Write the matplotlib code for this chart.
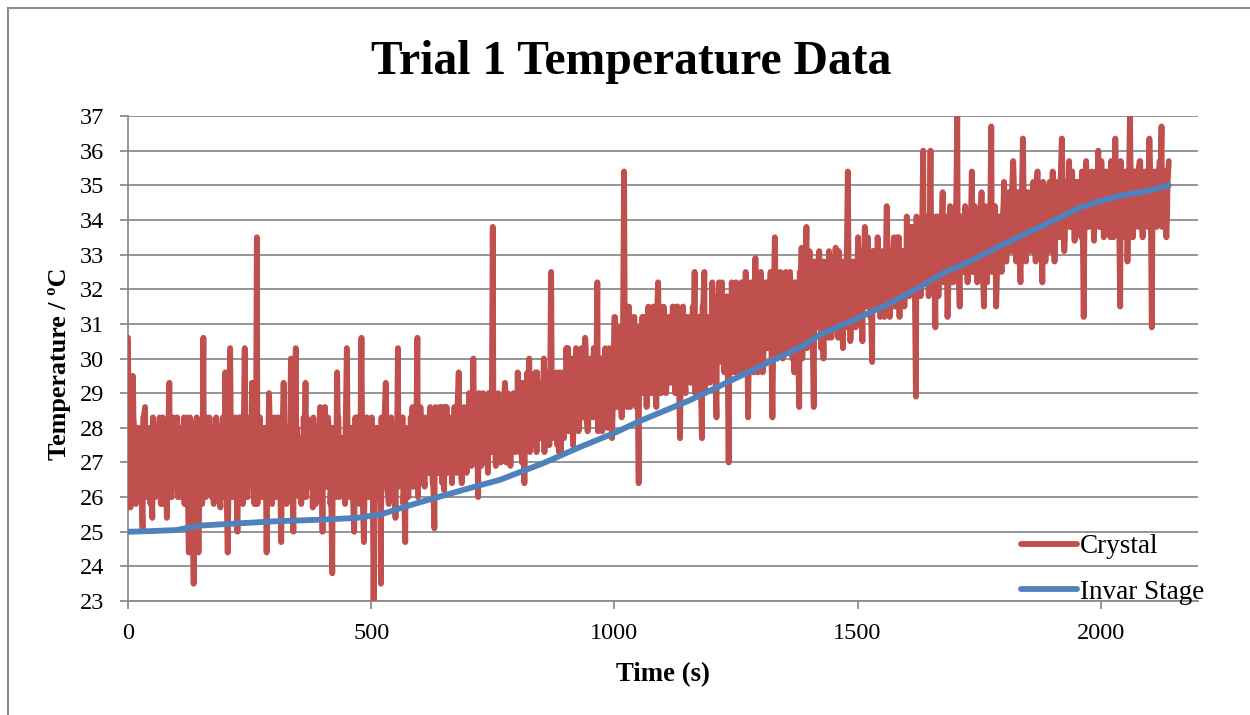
import numpy as np
import matplotlib
matplotlib.use("Agg")
import matplotlib.pyplot as plt
from matplotlib.patches import Rectangle

plt.rcParams['font.family'] = ['Liberation Serif', 'DejaVu Serif']

# crystal thermocouple, readings on the 5 s marks
crystal_step = 5
crystal_temp = [
    30.6, 25.7, 29.5, 26.3, 28.0, 26.0, 25.1, 28.6, 26.0, 28.0, 25.4, 27.7, 26.3, 28.3, 25.8, 27.3, 25.4, 29.3, 26.0, 27.7,
    28.3, 26.3, 27.3, 28.3, 25.8, 24.4, 28.0, 23.5, 27.7, 24.4, 28.0, 30.6, 26.0, 27.3, 26.3, 28.0, 26.7, 27.7, 25.7, 28.3,
    29.6, 24.4, 30.3, 26.0, 28.3, 25.0, 27.7, 26.3, 30.3, 26.0, 27.3, 29.3, 25.8, 33.5, 26.3, 28.0, 26.0, 24.4, 29.0, 26.3,
    27.7, 26.0, 28.3, 24.7, 29.3, 26.3, 28.0, 30.0, 25.0, 30.3, 26.3, 27.7, 26.0, 29.3, 26.3, 28.0, 25.7, 27.3, 26.3, 28.6,
    25.0, 28.6, 26.3, 28.0, 23.8, 27.3, 29.6, 26.0, 27.7, 26.3, 30.3, 26.0, 28.0, 25.0, 27.3, 26.7, 30.6, 24.7, 28.3, 26.0,
    26.3, 23.0, 28.0, 26.0, 23.5, 27.3, 29.3, 26.0, 28.3, 26.3, 25.4, 30.3, 26.7, 28.3, 24.7, 27.7, 26.3, 28.6, 26.7, 30.6,
    26.7, 28.3, 26.3, 28.0, 26.7, 27.7, 25.1, 28.0, 26.7, 28.6, 26.2, 28.6, 27.0, 28.0, 26.7, 28.3, 29.6, 26.7, 28.3, 27.0,
    27.3, 28.6, 30.0, 27.0, 26.0, 28.3, 29.0, 27.3, 26.7, 28.6, 33.8, 27.3, 28.6, 27.0, 28.3, 29.3, 27.3, 28.6, 27.7, 28.3,
    27.7, 29.3, 27.0, 26.4, 28.6, 30.0, 27.7, 29.0, 27.3, 28.6, 27.7, 30.0, 28.0, 29.3, 32.5, 28.0, 29.3, 27.7, 27.3, 29.6,
    28.3, 30.3, 28.6, 27.5, 29.3, 28.3, 29.6, 28.6, 30.6, 27.9, 29.6, 28.6, 30.0, 32.2, 28.6, 27.9, 30.0, 28.6, 30.3, 27.7,
    31.2, 28.6, 30.3, 28.3, 35.4, 29.0, 31.5, 29.3, 31.2, 28.6, 26.4, 30.0, 29.0, 30.6, 31.5, 29.3, 31.5, 29.6, 32.2, 29.0,
    30.0, 31.2, 29.3, 30.6, 31.5, 29.0, 31.5, 27.7, 30.3, 29.3, 31.2, 29.6, 30.6, 32.5, 29.6, 31.2, 27.7, 32.5, 29.6, 31.2,
    30.0, 31.5, 28.3, 32.2, 30.0, 31.2, 29.6, 27.0, 30.6, 31.5, 32.2, 29.6, 31.2, 30.3, 32.5, 28.3, 31.5, 30.0, 32.9, 29.6,
    31.2, 29.6, 31.5, 30.3, 31.8, 28.3, 33.5, 30.0, 31.5, 32.2, 30.3, 31.8, 30.6, 32.2, 29.6, 31.5, 28.6, 33.2, 30.6, 33.8,
    30.6, 32.5, 28.6, 32.2, 32.9, 30.3, 30.0, 32.2, 30.6, 32.5, 31.2, 33.2, 30.6, 32.2, 30.3, 32.8, 35.4, 30.5, 32.5, 31.2,
    32.8, 31.2, 30.5, 33.8, 31.8, 32.5, 29.9, 33.1, 31.5, 33.1, 31.8, 31.2, 34.4, 32.2, 33.1, 33.5, 31.5, 33.5, 32.2, 33.1,
    31.8, 33.8, 32.2, 33.8, 28.9, 33.1, 31.8, 36.0, 32.2, 34.1, 36.0, 32.5, 30.9, 34.1, 32.2, 34.8, 32.5, 31.2, 34.4, 32.5,
    33.1, 37.0, 31.5, 34.1, 32.5, 33.8, 32.8, 35.4, 32.5, 34.1, 32.8, 34.8, 31.5, 33.8, 32.8, 36.7, 33.1, 31.5, 34.1, 32.8,
    34.4, 32.8, 34.8, 33.1, 35.7, 33.5, 34.4, 32.2, 36.35, 33.5, 34.8, 33.1, 34.4, 33.5, 35.4, 33.1, 32.2, 34.8, 33.5, 35.1,
    33.8, 32.8, 35.1, 33.5, 36.35, 33.1, 34.8, 35.7, 33.8, 35.1, 34.1, 35.1, 33.5, 31.2, 35.7, 33.8, 35.1, 34.1, 35.4, 36.0,
    33.8, 35.4, 34.1, 35.1, 33.5, 35.4, 36.35, 33.8, 31.5, 35.1, 34.1, 32.8, 37.0, 33.5, 35.4, 34.4, 35.7, 33.8, 35.1, 34.1,
    36.35, 30.9, 35.1, 33.8, 35.4, 36.7, 34.1, 33.5, 35.7,
]

# crystal readings 1.25 s after each 5 s mark
crystal_temp_q1 = [
    28.0, 26.0, 28.3, 25.8, 28.0, 26.3, 28.3, 26.0, 27.7, 25.8, 28.3, 26.0, 28.0, 26.3, 28.3, 25.8, 28.0, 26.0, 27.7, 26.3,
    28.3, 26.0, 28.0, 25.8, 28.3, 26.3, 27.7, 26.0, 28.3, 25.8, 28.0, 26.0, 28.3, 26.3, 28.0, 25.8, 28.3, 26.0, 28.0, 26.3,
    28.0, 25.8, 28.3, 26.0, 28.0, 26.3, 28.3, 25.8, 27.7, 26.0, 28.3, 26.3, 28.0, 25.8, 28.3, 26.0, 28.0, 26.3, 28.3, 25.8,
    28.3, 26.0, 28.0, 26.3, 28.3, 25.8, 28.0, 26.0, 28.3, 26.3, 27.7, 25.8, 28.3, 26.0, 28.0, 26.3, 28.3, 25.8, 28.0, 26.0,
    28.0, 26.3, 28.3, 25.8, 28.0, 26.0, 28.3, 26.3, 27.7, 25.8, 28.3, 26.0, 28.0, 26.3, 28.3, 25.8, 28.0, 26.0, 28.3, 26.3,
    28.3, 25.8, 28.0, 26.0, 28.3, 26.3, 28.0, 25.8, 28.3, 26.0, 27.7, 26.3, 28.3, 25.8, 28.0, 26.0, 28.3, 26.3, 28.0, 26.0,
    28.6, 26.4, 28.3, 26.7, 28.6, 26.4, 28.3, 26.7, 28.6, 26.4, 28.6, 26.7, 28.3, 26.4, 28.6, 26.7, 28.3, 26.4, 28.6, 26.7,
    29.0, 26.9, 28.6, 27.3, 29.0, 26.9, 28.6, 27.0, 29.0, 27.3, 28.6, 26.9, 29.0, 27.0, 28.6, 27.3, 29.0, 26.9, 28.6, 27.3,
    29.6, 27.3, 29.3, 27.7, 29.6, 27.3, 29.3, 27.5, 29.6, 27.7, 29.3, 27.3, 29.6, 27.5, 29.3, 27.7, 29.6, 27.3, 29.3, 27.7,
    30.3, 27.9, 30.0, 28.3, 30.3, 27.9, 30.0, 28.3, 30.3, 28.0, 30.0, 28.3, 30.3, 27.9, 30.0, 28.3, 30.3, 28.0, 30.0, 28.3,
    31.2, 28.6, 30.9, 29.0, 31.2, 28.6, 30.9, 29.0, 31.2, 28.6, 30.9, 29.0, 31.2, 28.6, 30.9, 29.0, 31.2, 28.6, 30.9, 29.0,
    31.5, 29.0, 31.2, 29.3, 31.5, 29.0, 31.2, 29.3, 31.5, 29.0, 31.2, 29.3, 31.5, 29.0, 31.2, 29.3, 31.5, 29.0, 31.2, 29.3,
    32.2, 29.6, 31.8, 29.9, 32.2, 29.6, 31.8, 29.9, 32.2, 29.6, 31.8, 29.9, 32.2, 29.6, 31.8, 29.9, 32.2, 29.6, 31.8, 29.9,
    32.5, 30.0, 32.2, 30.3, 32.5, 30.0, 32.2, 30.3, 32.5, 30.0, 32.2, 30.3, 32.5, 30.0, 32.2, 30.3, 32.5, 30.0, 32.2, 30.3,
    33.1, 30.6, 32.8, 30.9, 33.1, 30.6, 32.8, 30.9, 33.1, 30.6, 32.8, 30.9, 33.1, 30.6, 32.8, 30.9, 33.1, 30.6, 32.8, 30.9,
    33.5, 31.2, 33.1, 31.5, 33.5, 31.2, 33.1, 31.5, 33.5, 31.2, 33.1, 31.5, 33.5, 31.2, 33.1, 31.5, 33.5, 31.2, 33.1, 31.5,
    34.1, 31.8, 33.8, 32.2, 34.1, 31.8, 33.8, 32.2, 34.1, 31.8, 33.8, 32.2, 34.1, 31.8, 33.8, 32.2, 34.1, 31.8, 33.8, 32.2,
    34.4, 32.2, 34.1, 32.5, 34.4, 32.2, 34.1, 32.5, 34.4, 32.2, 34.1, 32.5, 34.4, 32.2, 34.1, 32.5, 34.4, 32.2, 34.1, 32.5,
    35.1, 32.8, 34.8, 33.1, 35.1, 32.8, 34.8, 33.1, 35.1, 32.8, 34.8, 33.1, 35.1, 32.8, 34.8, 33.1, 35.1, 32.8, 34.8, 33.1,
    35.4, 33.4, 35.1, 33.8, 35.4, 33.4, 35.1, 33.8, 35.4, 33.4, 35.1, 33.8, 35.4, 33.4, 35.1, 33.8, 35.4, 33.4, 35.1, 33.8,
    35.7, 33.5, 35.4, 33.8, 35.7, 33.5, 35.4, 33.8, 35.7, 33.5, 35.4, 33.8, 35.7, 33.5, 35.4, 33.8, 35.7, 33.5, 35.4, 33.8,
    35.7, 33.8, 35.4, 34.1, 35.7, 33.8, 35.4, 34.1,
]

# crystal readings 2.5 s after each 5 s mark
crystal_temp_half = [
    27.3, 26.0, 28.0, 26.7, 27.7, 26.3, 28.3, 26.0, 27.3, 26.7, 28.0, 26.3, 27.0, 25.8, 28.0, 26.7, 27.7, 26.0, 28.3, 26.7,
    26.0, 28.0, 26.3, 27.7, 26.7, 28.3, 26.0, 27.3, 26.3, 28.0, 25.8, 27.7, 26.7, 28.3, 26.0, 27.0, 28.0, 26.3, 27.7, 26.0,
    26.3, 28.0, 26.0, 27.7, 26.7, 28.3, 26.0, 27.3, 26.3, 28.0, 26.7, 27.7, 26.0, 28.3, 26.3, 27.0, 28.0, 26.7, 26.3, 28.0,
    26.0, 28.3, 26.7, 27.7, 26.0, 28.0, 26.3, 27.3, 26.7, 28.0, 26.0, 27.7, 26.3, 28.3, 26.7, 27.3, 26.0, 28.0, 26.7, 27.7,
    26.7, 27.3, 28.0, 26.3, 27.7, 26.0, 28.3, 26.7, 27.3, 28.0, 26.3, 27.7, 26.0, 28.3, 26.7, 27.3, 26.0, 27.7, 26.3, 28.0,
    27.7, 26.3, 27.3, 28.0, 26.7, 28.3, 26.3, 27.7, 26.0, 28.0, 26.7, 27.3, 28.3, 26.3, 27.7, 26.7, 28.0, 26.3, 27.7, 27.0,
    27.7, 26.7, 28.3, 27.0, 28.0, 26.4, 28.6, 27.3, 26.7, 28.3, 27.0, 27.7, 26.7, 28.3, 27.3, 28.6, 26.7, 28.0, 27.0, 28.3,
    28.6, 27.3, 28.3, 27.7, 29.0, 27.0, 28.3, 27.7, 28.6, 27.3, 29.0, 27.7, 28.0, 27.3, 28.6, 27.0, 28.3, 27.7, 29.0, 27.3,
    28.6, 27.7, 29.3, 28.0, 27.7, 29.0, 28.3, 29.6, 27.7, 29.0, 28.3, 29.3, 27.7, 28.6, 29.3, 28.0, 27.5, 29.6, 28.3, 28.6,
    29.6, 28.3, 30.0, 28.6, 29.3, 28.0, 30.3, 29.0, 28.3, 29.6, 28.6, 30.3, 29.0, 28.3, 30.0, 28.6, 29.3, 28.0, 29.6, 29.0,
    29.3, 30.6, 29.0, 30.3, 29.6, 31.2, 28.6, 30.6, 29.3, 30.0, 29.6, 31.2, 29.0, 30.3, 29.6, 30.6, 29.0, 31.2, 29.6, 30.3,
    30.6, 29.3, 31.2, 29.6, 30.3, 31.5, 29.6, 30.6, 29.3, 31.2, 30.0, 30.6, 29.3, 31.2, 30.3, 29.6, 31.5, 29.6, 30.6, 29.6,
    31.2, 29.6, 30.6, 31.8, 30.3, 31.5, 30.6, 29.6, 31.8, 30.0, 31.2, 30.6, 32.2, 30.3, 31.5, 29.9, 31.8, 30.6, 31.2, 30.6,
    31.8, 30.6, 30.3, 32.2, 30.6, 31.5, 32.2, 30.3, 31.8, 30.6, 32.5, 30.6, 31.5, 30.3, 32.2, 30.6, 31.5, 30.3, 32.2, 31.2,
    31.5, 30.6, 32.5, 31.2, 31.8, 32.8, 31.2, 32.5, 31.5, 31.2, 32.5, 31.5, 32.8, 31.5, 31.2, 32.5, 31.5, 31.8, 31.5, 32.5,
    31.8, 32.8, 32.2, 31.5, 32.8, 31.5, 32.2, 31.8, 32.8, 31.5, 33.1, 32.2, 32.5, 31.8, 32.8, 32.2, 33.1, 32.5, 31.8, 32.5,
    32.8, 32.2, 33.1, 32.5, 33.5, 32.2, 33.5, 32.8, 33.5, 32.5, 33.8, 32.8, 33.1, 32.5, 33.5, 33.1, 33.8, 32.8, 33.1, 33.5,
    34.1, 32.8, 33.5, 33.1, 32.8, 34.1, 33.5, 32.8, 34.1, 33.1, 33.8, 32.5, 34.4, 33.1, 33.8, 32.8, 34.4, 33.1, 33.5, 33.8,
    33.5, 34.4, 33.8, 34.8, 33.5, 34.8, 33.1, 34.4, 33.8, 34.8, 33.5, 34.4, 33.8, 34.8, 33.5, 34.4, 33.8, 33.5, 34.8, 33.8,
    34.4, 34.8, 33.8, 35.1, 34.1, 34.8, 34.1, 35.1, 34.4, 34.8, 33.8, 34.8, 34.4, 34.8, 34.1, 35.1, 34.4, 34.8, 34.1, 34.4,
    34.8, 34.1, 35.4, 34.4, 35.1, 34.1, 35.1, 34.4, 34.8, 33.8, 35.4, 34.4, 35.1, 34.8, 34.1, 35.4, 34.4, 34.8, 35.4, 34.4,
    35.1, 34.4, 34.1, 35.4, 34.8, 35.1, 34.4, 35.1,
]

# invar stage readings
stage_time = [0, 50, 100, 110, 150, 200, 300, 400, 470, 520, 560, 600, 650, 700, 765, 854, 930, 1000,
              1053, 1156, 1245, 1314, 1383, 1424, 1490, 1560, 1620, 1677, 1730, 1800, 1860, 1920, 1959,
              2000, 2040, 2100, 2140]
stage_temp = [25.0, 25.02, 25.05, 25.08, 25.18, 25.22, 25.3, 25.35, 25.4, 25.5, 25.68, 25.85, 26.05, 26.25,
              26.5, 26.98, 27.45, 27.85, 28.2, 28.8, 29.4, 29.87, 30.33, 30.7, 31.1, 31.55, 32.0, 32.47,
              32.8, 33.3, 33.7, 34.1, 34.37, 34.55, 34.7, 34.85, 35.0]

# merge the crystal reading sets into one time-ordered series
t_main = np.arange(len(crystal_temp)) * crystal_step
t_q1 = np.arange(len(crystal_temp_q1)) * crystal_step + 1.25
t_half = np.arange(len(crystal_temp_half)) * crystal_step + 2.5
crystal_time = np.concatenate([t_main, t_q1, t_half])
crystal_vals = np.concatenate([crystal_temp, crystal_temp_q1, crystal_temp_half])
order = np.argsort(crystal_time, kind='stable')
crystal_time = crystal_time[order]
crystal_vals = crystal_vals[order]

red = '#C0504D'
blue = '#4F81BD'
grid_col = '#8C8C8C'

fig = plt.figure(figsize=(12.5, 7.15), dpi=100)
ax = fig.add_axes([0.1024, 0.1594, 0.856, 0.6783])

ax.plot(crystal_time, crystal_vals, color=red, lw=4.2, solid_joinstyle='round',
        solid_capstyle='round', label='Crystal', zorder=3)
ax.plot(stage_time, stage_temp, color=blue, lw=4.2, solid_capstyle='round',
        label='Invar Stage', zorder=4)

ax.set_xlim(0, 2200)
ax.set_ylim(23, 37)
ax.set_yticks(range(23, 38))
ax.set_xticks([0, 500, 1000, 1500, 2000])
ax.yaxis.grid(True, color=grid_col, lw=1.3)
ax.set_axisbelow(True)

for side in ['top', 'right']:
    ax.spines[side].set_visible(False)
for side in ['left', 'bottom']:
    ax.spines[side].set_color(grid_col)
    ax.spines[side].set_linewidth(1.3)
ax.tick_params(axis='y', length=6, width=1.3, color=grid_col, labelsize=17.5, pad=11)
ax.tick_params(axis='x', length=6, width=1.3, color=grid_col, labelsize=17.5, pad=10)

ax.set_xlabel('Time (s)', fontsize=19.3, fontweight='bold', labelpad=13)
ax.set_ylabel('Temperature / ºC', fontsize=18.8, fontweight='bold')
ax.yaxis.set_label_coords(-0.053, 0.489)
fig.text(0.505, 0.913, 'Trial 1 Temperature Data', ha='center', va='center',
         fontsize=34.3, fontweight='bold')

ax.legend(loc='lower left', bbox_to_anchor=(0.8085, 0.139), bbox_transform=fig.transFigure,
          frameon=False, fontsize=19.5, handlelength=2.05, handletextpad=0.1,
          labelspacing=0.75, borderaxespad=0)

# outer chart border
fig.patches.append(Rectangle((8 / 1250, -0.05), 1.2, 1 - 8 / 715 + 0.05, transform=fig.transFigure,
                             fill=False, edgecolor='#8C8C8C', lw=1.5))

fig.savefig('out.png', dpi=100)
